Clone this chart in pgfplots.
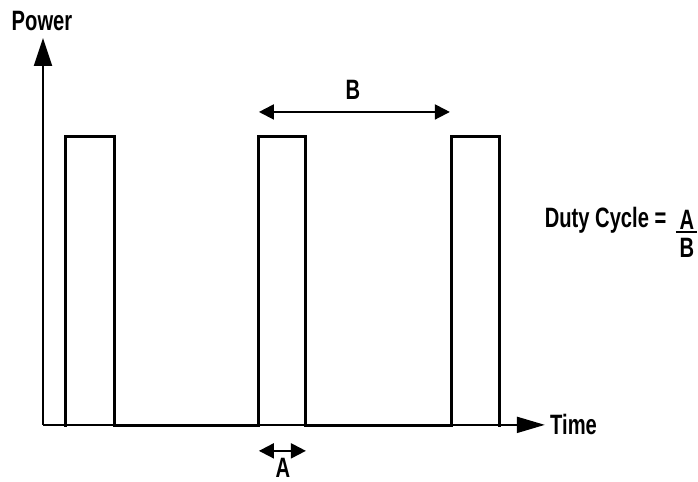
\documentclass[border=0pt]{standalone}
\usepackage{pgfplots}
\pgfplotsset{compat=1.18}
\usetikzlibrary{arrows.meta}
\usepackage{fontspec}
\setmainfont{Liberation Sans}
\newfontfamily\lbl{LiberationSans-Bold}[FakeStretch=0.72]
\tikzset{lab/.style={font=\lbl\fontsize{14}{16}\selectfont, text=black, inner sep=0pt}}
\begin{document}
\begin{tikzpicture}[font=\lbl\fontsize{14}{16}\selectfont]
\begin{axis}[
  x=0.5pt, y=0.5pt,
  xmin=0, xmax=698, ymin=0, ymax=482,
  hide axis, clip=false, enlargelimits=false,
]
\path (axis cs:0,0) rectangle (axis cs:698,482);
% axes
\addplot[black, line width=1pt, -{Triangle[length=14pt,width=9pt]}] coordinates {(43,57) (43,444)};
\addplot[black, line width=1pt, -{Triangle[length=14pt,width=8pt]}] coordinates {(43,57) (545,57)};
% pulse train
\addplot[black, line width=1.5pt, line join=miter] coordinates {
 (66,55) (66,345) (115,345) (115,56) (259,56) (259,345) (306,345) (306,56)
 (452,56) (452,345) (500,345) (500,55)};
% B and A arrows
\addplot[black, line width=1pt, {Triangle[length=7.5pt,width=7.5pt]}-{Triangle[length=7.5pt,width=7.5pt]}] coordinates {(259,370) (450,370)};
\addplot[black, line width=1pt, {Triangle[length=7.5pt,width=7.5pt]}-{Triangle[length=7.5pt,width=7.5pt]}] coordinates {(259,31) (306,31)};
% labels
\node[lab] at (axis cs:353,392) {B};
\node[lab] at (axis cs:283,14) {A};
\node[lab] at (axis cs:42,461) {Power};
\node[lab,anchor=west] at (axis cs:550,57) {Time};
\node[lab,anchor=east] at (axis cs:667,262) {Duty Cycle =};
\node[lab] at (axis cs:687,262) {A};
\node[lab] at (axis cs:687,234) {B};
\draw[line width=1.2pt] (axis cs:676,250) -- (axis cs:697,250);
\end{axis}
\end{tikzpicture}
\end{document}
